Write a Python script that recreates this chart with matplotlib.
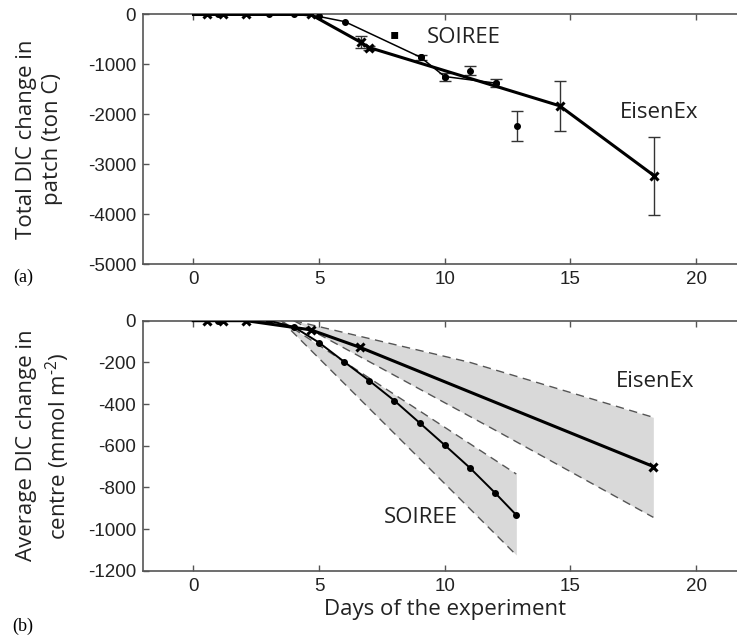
import numpy as np
import matplotlib
matplotlib.use("Agg")
import matplotlib.pyplot as plt

plt.rcParams["axes.unicode_minus"] = False
plt.rcParams["mathtext.fontset"] = "custom"
plt.rcParams["mathtext.rm"] = "Open Sans"
plt.rcParams["mathtext.it"] = "Open Sans"

# --- panel (a): total DIC change in patch (ton C) ---
eisen_a_days = [0, 0.56, 1.2, 2.1, 4.67, 6.66, 7.0, 14.57, 18.33]
eisen_a_vals = [0, 0, 0, 0, 0, -555, -662, -1826, -3224]
soiree_a_days = [0, 1.0, 3.0, 4.0, 5.0, 6.03, 9.04, 10.0, 12.03]
soiree_a_vals = [0, 0, 0, 0, -40, -144, -855, -1241, -1373]

# points with error bars
eisen_err_days = [6.66, 7.0, 14.57, 18.33]
eisen_err_vals = [-555, -662, -1826, -3224]
eisen_err = [115, 40, 500, 780]
soiree_err_days = [9.04, 10.0, 11.0, 12.03, 12.89]
soiree_err_vals = [-855, -1241, -1128, -1373, -2240]
soiree_err = [50, 80, 90, 80, 300]

# --- panel (b): average DIC change in centre (mmol m-2) ---
eisen_b_days = [0, 0.56, 1.2, 2.1, 4.67, 6.63, 18.3]
eisen_b_vals = [0, 0, 0, 0, -44, -128, -700]
eisen_up_days = [4.0, 11.0, 18.3]
eisen_up_vals = [0, -200, -464]
eisen_lo_days = [4.0, 12.23, 18.3]
eisen_lo_vals = [0, -540, -944]

soiree_b_days = [0, 1.0, 3.0, 4.0, 5.0, 6.0, 7.0, 8.0, 9.0, 10.0, 11.0, 12.0, 12.85]
soiree_b_vals = [0, 0, 0, -30, -105, -197, -288, -384, -490, -597, -706, -826, -933]
soiree_up_days = [3.5, 12.85]
soiree_up_vals = [0, -736]
soiree_lo_days = [3.5, 12.85]
soiree_lo_vals = [0, -1125]

x_ticks = [0, 5, 10, 15, 20]
label_font = "Open Sans"
tick_font = "Liberation Sans"
spine_col = "#555555"
band_col = "#d9d9d9"
dash_col = "#555555"

fig = plt.figure(figsize=(7.37, 6.37), dpi=100)
ax1 = fig.add_axes([0.194, 0.5848, 0.8187, 0.3925])
ax2 = fig.add_axes([0.194, 0.1041, 0.8187, 0.3925])


def style(ax, label_x):
    ax.set_xlim(-2, 22)
    ax.set_xticks(x_ticks)
    ax.tick_params(direction="in", top=True, right=False, length=4, width=1,
                   color=spine_col, labelsize=13.5, pad=5)
    for lab in ax.get_xticklabels() + ax.get_yticklabels():
        lab.set_fontfamily(tick_font)
        lab.set_color("#222222")
    for s in ax.spines.values():
        s.set_color(spine_col)
        s.set_linewidth(1.2)
    ax.spines["right"].set_visible(False)
    ax.yaxis.set_label_coords(label_x, 0.5)


# panel (a)
ax1.plot(eisen_a_days[1:], eisen_a_vals[1:], color="black", lw=2.2, marker="x",
         ms=6, mew=2.2, zorder=3)
ax1.plot(eisen_a_days[:2], eisen_a_vals[:2], color="black", lw=2.2, zorder=3)
ax1.plot(soiree_a_days, soiree_a_vals, color="black", lw=1.1, zorder=3)
ax1.plot(soiree_a_days[1:], soiree_a_vals[1:], ls="none", marker="o", ms=4,
         color="black", zorder=4)
ax1.errorbar(eisen_err_days, eisen_err_vals, yerr=eisen_err, fmt="none",
             ecolor="#333333", elinewidth=1, capsize=4, capthick=1, zorder=2)
ax1.errorbar(soiree_err_days, soiree_err_vals, yerr=soiree_err, fmt="o", ms=4,
             color="black", ecolor="#333333", elinewidth=1, capsize=4,
             capthick=1, zorder=2)
ax1.set_ylim(-5000, 0)
ax1.set_yticks([0, -1000, -2000, -3000, -4000, -5000])
ax1.set_ylabel("Total DIC change in\npatch (ton C)", fontsize=16,
               family=label_font, color="#222222", linespacing=1.35)
ax1.text(8.02, -395, "\u25aa", fontsize=10, ha="center", va="center",
         family="DejaVu Sans")
ax1.text(10.76, -459, "SOIREE", fontsize=16, ha="center", va="center",
         family=label_font, color="#222222")
ax1.text(18.55, -1966, "EisenEx", fontsize=16, ha="center", va="center",
         family=label_font, color="#222222")
style(ax1, -0.132)

# panel (b)
ax2.fill_between(soiree_up_days, soiree_up_vals, soiree_lo_vals, color=band_col,
                 lw=0, zorder=1)
ed = np.array(sorted(set(eisen_up_days + eisen_lo_days)))
ax2.fill_between(ed, np.interp(ed, eisen_up_days, eisen_up_vals),
                 np.interp(ed, eisen_lo_days, eisen_lo_vals), color=band_col,
                 lw=0, zorder=1)
for d, v in [(eisen_up_days, eisen_up_vals), (eisen_lo_days, eisen_lo_vals),
             (soiree_up_days, soiree_up_vals), (soiree_lo_days, soiree_lo_vals)]:
    ax2.plot(d, v, color=dash_col, lw=1, ls=(0, (6, 4)), zorder=2)
ax2.plot(eisen_b_days, eisen_b_vals, color="black", lw=2.2, zorder=3)
ax2.plot(eisen_b_days[1:], eisen_b_vals[1:], ls="none", marker="x", ms=6,
         mew=2.2, color="black", zorder=4)
ax2.plot(soiree_b_days, soiree_b_vals, color="black", lw=1.4, zorder=3)
ax2.plot(soiree_b_days[1:], soiree_b_vals[1:], ls="none", marker="o", ms=4,
         color="black", zorder=4)
ax2.set_ylim(-1200, 0)
ax2.set_yticks([0, -200, -400, -600, -800, -1000, -1200])
ax2.set_ylabel("Average DIC change in\ncentre (mmol m$^{\\text{-}2}$)", fontsize=16,
               family=label_font, color="#222222", linespacing=1.3)
ax2.set_xlabel("Days of the experiment", fontsize=16, family=label_font,
               color="#222222", labelpad=3)
ax2.text(18.39, -294, "EisenEx", fontsize=16, ha="center", va="center",
         family=label_font, color="#222222")
ax2.text(9.05, -946, "SOIREE", fontsize=16, ha="center", va="center",
         family=label_font, color="#222222")
style(ax2, -0.118)

fig.text(0.031, 0.565, "(a)", fontsize=13, family="Liberation Serif",
         ha="center", va="center")
fig.text(0.031, 0.016, "(b)", fontsize=13, family="Liberation Serif",
         ha="center", va="center")

fig.savefig("out.png", dpi=100)
